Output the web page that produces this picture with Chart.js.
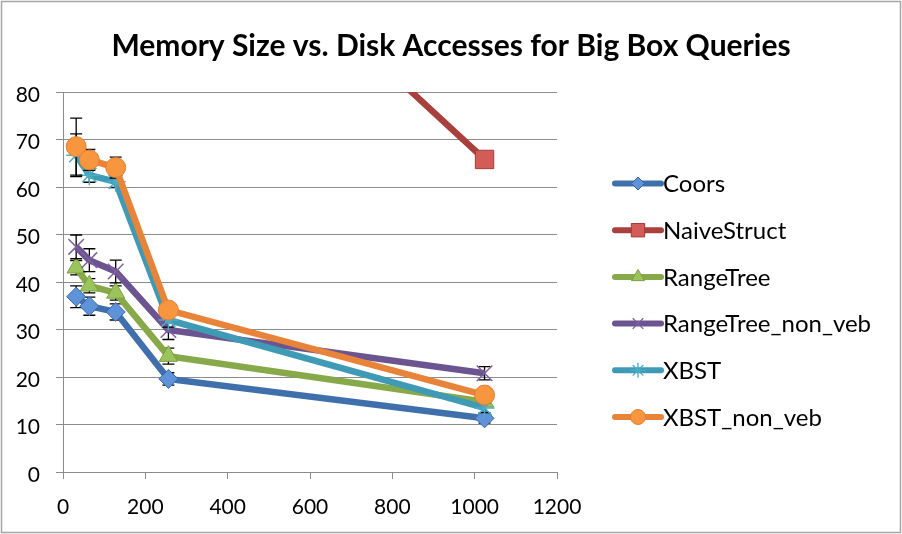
<!DOCTYPE html>
<html>
<head>
<meta charset="utf-8">
<script src="https://cdn.jsdelivr.net/npm/chart.js@4.4.0/dist/chart.umd.min.js"></script>
<style>
  html, body { margin: 0; padding: 0; background: #ffffff; }
  #wrap { width: 902px; height: 534px; position: relative; }
</style>
</head>
<body>
<div id="wrap"><canvas id="c" width="902" height="534"></canvas></div>
<script>
// ---- data ----
const memorySizes = [32, 64, 128, 256, 1024];
const seriesNames = ['Coors', 'NaiveStruct', 'RangeTree', 'RangeTree_non_veb', 'XBST', 'XBST_non_veb'];
const coors = [36.9, 34.9, 33.7, 19.6, 11.3];
const naiveStruct = [180, 160, 145, 127.4, 65.8];
const rangeTree = [43.0, 39.2, 37.7, 24.4, 14.8];
const rangeTreeNonVeb = [47.4, 44.6, 42.2, 29.9, 20.8];
const xbst = [66.7, 62.5, 61.1, 32.0, 13.5];
const xbstNonVeb = [68.5, 65.7, 64.1, 34.1, 16.2];
const coorsErr = [2.3, 1.9, 1.7, 1.3, 1.0];
const naiveStructErr = [0, 0, 0, 0, 0];
const rangeTreeErr = [1.5, 1.5, 1.5, 1.7, 1.0];
const rangeTreeNonVebErr = [2.5, 2.4, 2.4, 2.0, 1.4];
const xbstErr = [4.5, 1.5, 1.2, 1.5, 1.0];
const xbstNonVebErr = [6.0, 2.2, 2.2, 1.5, 1.2];
const xTicks = [0, 200, 400, 600, 800, 1000, 1200];
const yTicks = [0, 10, 20, 30, 40, 50, 60, 70, 80];
const titleText = 'Memory Size vs. Disk Accesses for Big Box Queries';

const allValues = [coors, naiveStruct, rangeTree, rangeTreeNonVeb, xbst, xbstNonVeb];
const allErrors = [coorsErr, naiveStructErr, rangeTreeErr, rangeTreeNonVebErr, xbstErr, xbstNonVebErr];

const styles = [
  { line: '#4070AC', fill: '#5E93DA', border: '#3A67A3', pointStyle: 'rectRot', radius: 9.5, lr: 6.5 },
  { line: '#A8413E', fill: '#D35C59', border: '#A33B38', pointStyle: 'rect', radius: 13, lr: 9.5 },
  { line: '#88A94A', fill: '#9CC45C', border: '#7E9E44', pointStyle: 'triangle', radius: 10.5, lr: 7.5 },
  { line: '#6C5490', fill: '#6C5490', border: '#7D60A0', pointStyle: 'crossRot', radius: 11, lr: 7.5 },
  { line: '#3F9BB5', fill: '#4BACC6', border: '#4BACC6', pointStyle: 'star', radius: 10, lr: 7.5 },
  { line: '#E8833A', fill: '#F7963F', border: '#E07F35', pointStyle: 'circle', radius: 10, lr: 7.5 }
];

const datasets = seriesNames.map((name, i) => ({
  label: name,
  data: memorySizes.map((x, j) => ({ x: x, y: allValues[i][j] })),
  borderColor: styles[i].line,
  backgroundColor: styles[i].fill,
  borderWidth: 6.5,
  pointStyle: styles[i].pointStyle,
  pointRadius: styles[i].radius,
  pointBackgroundColor: styles[i].fill,
  pointBorderColor: styles[i].border,
  pointBorderWidth: (styles[i].pointStyle === 'crossRot' || styles[i].pointStyle === 'star') ? 1.5 : 1,
  tension: 0,
  clip: 0,
  order: seriesNames.length - i
}));

const errorBars = {
  id: 'errorBars',
  beforeDatasetDraw(chart, args) {
    const i = args.index;
    const errs = allErrors[i];
    const meta = args.meta;
    const ys = chart.scales.y;
    const ctx = chart.ctx;
    const a = chart.chartArea;
    ctx.save();
    ctx.beginPath();
    ctx.rect(a.left, a.top, a.right - a.left, a.bottom - a.top);
    ctx.clip();
    ctx.strokeStyle = '#000000';
    ctx.lineWidth = 1.3;
    meta.data.forEach((pt, j) => {
      const e = errs[j];
      if (!e) return;
      const v = allValues[i][j];
      const x = pt.x;
      const y1 = ys.getPixelForValue(v + e);
      const y2 = ys.getPixelForValue(v - e);
      ctx.beginPath();
      ctx.moveTo(x, y1); ctx.lineTo(x, y2);
      ctx.moveTo(x - 6, y1); ctx.lineTo(x + 6, y1);
      ctx.moveTo(x - 6, y2); ctx.lineTo(x + 6, y2);
      ctx.stroke();
    });
    ctx.restore();
  }
};

const decor = {
  id: 'decor',
  afterDraw(chart) {
    const ctx = chart.ctx;
    ctx.save();
    // outer border
    ctx.strokeStyle = '#a6a6a6';
    ctx.lineWidth = 1.5;
    ctx.strokeRect(1.5, 1.5, 899, 531);
    // title
    ctx.fillStyle = '#000000';
    ctx.font = 'bold 30px Lato';
    ctx.textAlign = 'center';
    ctx.textBaseline = 'middle';
    ctx.fillText(titleText, 451, 46);
    // legend
    const x0 = 615, x1 = 661, ly0 = 183.5, step = 46.7;
    ctx.textAlign = 'left';
    ctx.font = '24px Lato';
    seriesNames.forEach((name, i) => {
      const y = ly0 + step * i;
      const st = styles[i];
      ctx.strokeStyle = st.line;
      ctx.lineWidth = 6;
      ctx.lineCap = 'round';
      ctx.beginPath();
      ctx.moveTo(x0, y); ctx.lineTo(x1, y);
      ctx.stroke();
      ctx.lineCap = 'butt';
      ctx.fillStyle = st.fill;
      ctx.strokeStyle = st.border;
      const filled = !(st.pointStyle === 'crossRot' || st.pointStyle === 'star');
      ctx.lineWidth = filled ? 1 : 1.3;
      Chart.helpers.drawPoint(ctx, { pointStyle: st.pointStyle, radius: st.lr, rotation: 0, borderWidth: ctx.lineWidth }, (x0 + x1) / 2, y);
      ctx.fillStyle = '#000000';
      ctx.fillText(name, 663, y + 1);
    });
    ctx.restore();
  }
};

new Chart(document.getElementById('c'), {
  type: 'line',
  data: { datasets: datasets },
  options: {
    responsive: false,
    animation: false,
    events: [],
    layout: { padding: { top: 92, right: 345, bottom: 0, left: 0 } },
    plugins: { legend: { display: false }, title: { display: false }, tooltip: { enabled: false } },
    scales: {
      x: {
        type: 'linear',
        min: 0, max: 1200,
        afterBuildTicks(s) { s.ticks = xTicks.map(v => ({ value: v })); },
        afterFit(s) { s.height = 62; },
        grid: { drawOnChartArea: false, drawTicks: true, tickLength: 7, color: '#8c8c8c', lineWidth: 1 },
        border: { color: '#8c8c8c', width: 1 },
        ticks: { color: '#000000', font: { family: 'Lato', size: 21 }, padding: 16, maxRotation: 0,
                 callback: v => String(v) }
      },
      y: {
        type: 'linear',
        min: 0, max: 80,
        afterBuildTicks(s) { s.ticks = yTicks.map(v => ({ value: v })); },
        afterFit(s) { s.width = 63; },
        grid: { drawTicks: true, tickLength: 7, color: '#8c8c8c', lineWidth: 1 },
        border: { color: '#8c8c8c', width: 1 },
        ticks: { color: '#000000', font: { family: 'Lato', size: 21 }, padding: 16, labelOffset: 3,
                 callback: v => String(v) }
      }
    }
  },
  plugins: [errorBars, decor]
});
</script>
</body>
</html>
